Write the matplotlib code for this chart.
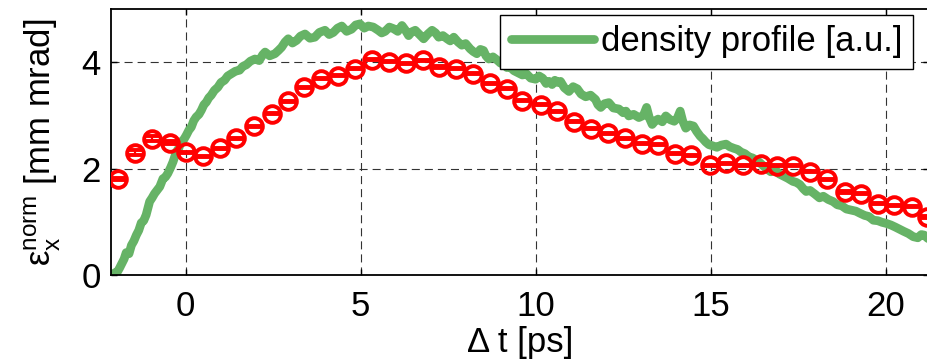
import matplotlib
matplotlib.use("Agg")
import matplotlib.pyplot as plt

plt.rcParams['font.family'] = ['Liberation Sans', 'DejaVu Sans']
plt.rcParams['mathtext.fontset'] = 'custom'
plt.rcParams['mathtext.rm'] = 'Liberation Sans'
plt.rcParams['mathtext.it'] = 'Liberation Sans:italic'
plt.rcParams['lines.scale_dashes'] = False

# ---- data: emittance measurement (red circles with error bars) ----
emit_t = [-1.93, -1.45, -0.97, -0.45, 0.01, 0.50, 0.98, 1.44, 1.95, 2.46,
          2.93, 3.39, 3.87, 4.34, 4.84, 5.33, 5.81, 6.29, 6.77, 7.25,
          7.72, 8.20, 8.70, 9.18, 9.62, 10.14, 10.62, 11.09, 11.57, 12.07,
          12.55, 13.05, 13.50, 13.98, 14.45, 14.98, 15.45, 15.93, 16.45, 16.89,
          17.34, 17.84, 18.33, 18.84, 19.31, 19.79, 20.24, 20.74, 21.17]
emit_val = [1.81, 2.30, 2.56, 2.49, 2.31, 2.23, 2.38, 2.57, 2.80, 3.03,
            3.27, 3.53, 3.69, 3.75, 3.88, 4.05, 4.01, 3.98, 4.04, 3.91,
            3.88, 3.78, 3.60, 3.50, 3.28, 3.20, 3.08, 2.88, 2.75, 2.66,
            2.57, 2.47, 2.45, 2.28, 2.25, 2.06, 2.10, 2.06, 2.08, 2.05,
            2.05, 1.94, 1.80, 1.56, 1.53, 1.34, 1.31, 1.28, 1.09]
emit_err = [0.02, 0.05, 0.05, 0.03, 0.01, 0.01, 0.01, 0.01, 0.01, 0.01,
            0.01, 0.01, 0.01, 0.01, 0.01, 0.01, 0.01, 0.01, 0.01, 0.01,
            0.01, 0.01, 0.01, 0.01, 0.01, 0.01, 0.01, 0.01, 0.01, 0.01,
            0.01, 0.01, 0.01, 0.01, 0.01, 0.01, 0.01, 0.01, 0.01, 0.01,
            0.01, 0.01, 0.01, 0.01, 0.01, 0.01, 0.01, 0.01, 0.01]

# ---- data: density profile (green line) ----
dens_t = [-2.03, -1.95, -1.89, -1.82, -1.76, -1.70, -1.62, -1.55, -1.48, -1.41,
          -1.34, -1.27, -1.20, -1.13, -1.03, -0.96, -0.89, -0.81, -0.74, -0.65,
          -0.58, -0.51, -0.43, -0.36, -0.27, -0.20, -0.13, -0.05, 0.02, 0.09,
          0.16, 0.23, 0.30, 0.38, 0.45, 0.52, 0.59, 0.66, 0.73, 0.82,
          0.92, 1.01, 1.11, 1.20, 1.30, 1.42, 1.54, 1.63, 1.73, 1.85,
          1.98, 2.10, 2.20, 2.27, 2.40, 2.55, 2.65, 2.74, 2.84, 2.93,
          3.05, 3.17, 3.28, 3.41, 3.55, 3.69, 3.82, 3.98, 4.10, 4.22,
          4.34, 4.46, 4.60, 4.74, 4.86, 4.98, 5.10, 5.22, 5.36, 5.50,
          5.60, 5.70, 5.82, 5.94, 6.06, 6.18, 6.28, 6.37, 6.46, 6.56,
          6.68, 6.80, 6.92, 7.04, 7.14, 7.23, 7.35, 7.47, 7.56, 7.66,
          7.78, 7.89, 8.00, 8.13, 8.22, 8.32, 8.42, 8.51, 8.58, 8.66,
          8.78, 8.90, 9.00, 9.10, 9.18, 9.27, 9.38, 9.50, 9.62, 9.74,
          9.86, 10.00, 10.10, 10.20, 10.30, 10.38, 10.47, 10.55, 10.63, 10.71,
          10.82, 10.95, 11.07, 11.19, 11.30, 11.43, 11.57, 11.71, 11.78, 11.86,
          11.97, 12.09, 12.22, 12.38, 12.50, 12.58, 12.66, 12.80, 12.95, 13.08,
          13.17, 13.25, 13.33, 13.42, 13.50, 13.62, 13.72, 13.84, 13.96, 14.05,
          14.13, 14.20, 14.29, 14.40, 14.51, 14.60, 14.70, 14.78, 14.86, 14.95,
          15.05, 15.18, 15.30, 15.44, 15.55, 15.67, 15.77, 15.87, 15.98, 16.10,
          16.20, 16.29, 16.39, 16.49, 16.60, 16.72, 16.84, 16.96, 17.08, 17.20,
          17.35, 17.45, 17.55, 17.65, 17.73, 17.84, 17.98, 18.11, 18.22, 18.36,
          18.50, 18.62, 18.75, 18.88, 19.02, 19.15, 19.27, 19.40, 19.52, 19.65,
          19.78, 19.90, 20.02, 20.15, 20.28, 20.40, 20.52, 20.65, 20.79, 20.92,
          21.02, 21.10, 21.22]
dens_val = [0.04, 0.06, 0.13, 0.22, 0.30, 0.42, 0.40, 0.56, 0.64, 0.75,
            0.84, 0.98, 1.02, 1.13, 1.38, 1.45, 1.53, 1.60, 1.66, 1.81,
            1.84, 1.91, 2.02, 2.13, 2.31, 2.38, 2.50, 2.55, 2.63, 2.72,
            2.78, 2.90, 2.97, 3.02, 3.10, 3.20, 3.25, 3.33, 3.38, 3.47,
            3.53, 3.62, 3.66, 3.74, 3.78, 3.83, 3.85, 3.92, 3.95, 4.02,
            4.06, 4.03, 4.14, 4.19, 4.12, 4.16, 4.22, 4.28, 4.38, 4.44,
            4.36, 4.41, 4.49, 4.53, 4.45, 4.47, 4.56, 4.60, 4.52, 4.56,
            4.64, 4.68, 4.58, 4.62, 4.70, 4.72, 4.64, 4.68, 4.66, 4.60,
            4.55, 4.58, 4.66, 4.63, 4.58, 4.69, 4.60, 4.50, 4.57, 4.60,
            4.52, 4.44, 4.53, 4.60, 4.55, 4.47, 4.50, 4.44, 4.40, 4.47,
            4.38, 4.32, 4.35, 4.25, 4.20, 4.16, 4.24, 4.22, 4.12, 4.06,
            4.10, 4.04, 3.98, 3.96, 3.90, 3.91, 3.84, 3.80, 3.76, 3.78,
            3.70, 3.68, 3.74, 3.70, 3.60, 3.64, 3.58, 3.66, 3.62, 3.64,
            3.52, 3.45, 3.54, 3.50, 3.40, 3.35, 3.38, 3.30, 3.20, 3.15,
            3.22, 3.24, 3.14, 3.12, 3.05, 3.08, 2.99, 3.02, 2.96, 3.00,
            3.15, 2.95, 2.83, 2.90, 2.93, 2.88, 2.99, 2.92, 2.89, 2.95,
            3.08, 2.90, 2.76, 2.82, 2.80, 2.70, 2.61, 2.56, 2.50, 2.45,
            2.43, 2.40, 2.44, 2.46, 2.41, 2.38, 2.36, 2.31, 2.28, 2.22,
            2.20, 2.16, 2.12, 2.06, 2.00, 1.94, 1.98, 1.90, 1.86, 1.82,
            1.76, 1.74, 1.70, 1.62, 1.57, 1.59, 1.52, 1.45, 1.48, 1.42,
            1.38, 1.32, 1.30, 1.24, 1.22, 1.20, 1.16, 1.12, 1.10, 1.03,
            1.02, 0.99, 0.97, 0.94, 0.90, 0.86, 0.82, 0.78, 0.72, 0.70,
            0.76, 0.75, 0.68]

x_ticks = [0, 5, 10, 15, 20]
y_ticks = [0, 2, 4]

FS = 25

fig = plt.figure(figsize=(9.27, 3.62), dpi=100)
ax = fig.add_axes([111/927, (362-275)/362, (929-111)/927, 266/362])

ax.plot(dens_t, dens_val, color='#66b366', lw=6.3, solid_joinstyle='round',
        solid_capstyle='round', zorder=2, label='density profile [a.u.]')
ax.errorbar(emit_t, emit_val, yerr=emit_err, fmt='o', ls='none',
            mfc='none', mec='red', mew=2.8, ms=12,
            ecolor='red', elinewidth=1.6, capsize=6, capthick=1.6, zorder=3)

ax.set_xlim(-2.134, 21.24)
ax.set_ylim(0, 5)
ax.set_xticks(x_ticks)
ax.set_yticks(y_ticks)
ax.tick_params(direction='in', top=True, right=True, length=4, width=1,
               labelsize=FS)
ax.tick_params(axis='x', pad=11)
ax.tick_params(axis='y', pad=7.5)
for s in ax.spines.values():
    s.set_linewidth(1.3)

ax.set_axisbelow(True)
ax.grid(True, color='#333333', lw=0.8, ls=(0, (5.8, 3.6)))

ax.set_xlabel('Δ t [ps]', fontsize=FS, va='top')
ax.xaxis.set_label_coords(0.5, -0.19)
ax.set_ylabel(r'$\mathrm{\varepsilon}_{\mathrm{x}}^{\mathrm{norm}}$ [mm mrad]',
              fontsize=FS)
ax.yaxis.set_label_coords(-0.059, 0.5)

leg = ax.legend(loc='upper right', bbox_to_anchor=(913/927, 1-15/362),
                bbox_transform=fig.transFigure, fontsize=FS, frameon=True,
                fancybox=False, borderpad=0.3, borderaxespad=0,
                handlelength=2.4, handletextpad=0.2, framealpha=1)
leg.get_frame().set_edgecolor('black')
leg.get_frame().set_linewidth(1.0)
leg.set_zorder(5)

fig.savefig('out.png', dpi=100)
